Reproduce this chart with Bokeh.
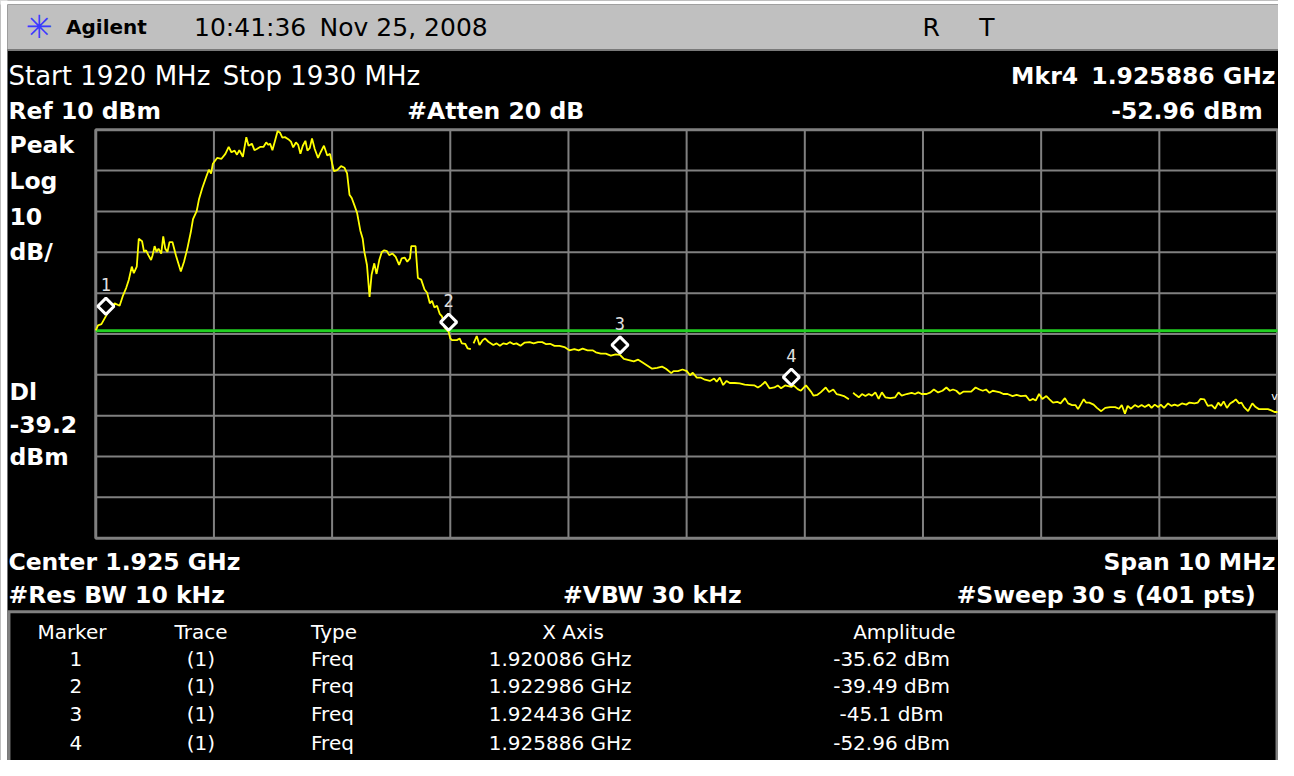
import math
from bokeh.plotting import figure
from bokeh.models import Range1d, Label, ColumnDataSource
from bokeh.core.properties import value
from bokeh.embed import file_html
from bokeh.resources import INLINE

# ---------------- data ----------------
START_MHZ = 1920.0
STOP_MHZ = 1930.0
REF_DBM = 10.0
DB_PER_DIV = 10.0
N_DIV = 10
DISPLAY_LINE_DBM = -39.2
ATTEN_DB = 20
RES_BW_KHZ = 10
VBW_KHZ = 30
SWEEP_S = 30
SWEEP_PTS = 401
TIMESTAMP_TIME = "10:41:36"
TIMESTAMP_DATE = "Nov 25, 2008"

NAN = float("nan")
trace_offset_mhz = [
    0.000, 0.019, 0.048, 0.086, 0.110, 0.132, 0.160, 0.202, 0.229, 0.258, 0.280, 0.305, 0.322, 0.347,
    0.364, 0.392, 0.409, 0.426, 0.445, 0.468, 0.481, 0.498, 0.515, 0.531, 0.554, 0.571, 0.588, 0.607,
    0.624, 0.649, 0.678, 0.720, 0.747, 0.775, 0.804, 0.823, 0.854, 0.873, 0.901, 0.935, 0.957, 0.976,
    0.991, 1.027, 1.064, 1.097, 1.125, 1.148, 1.175, 1.195, 1.215, 1.245, 1.274, 1.293, 1.321, 1.343,
    1.363, 1.391, 1.419, 1.442, 1.461, 1.475, 1.495, 1.517, 1.539, 1.559, 1.579, 1.601, 1.629, 1.652,
    1.671, 1.694, 1.713, 1.732, 1.752, 1.774, 1.791, 1.811, 1.830, 1.853, 1.881, 1.903, 1.931, 1.959,
    1.982, 2.015, 2.043, 2.076, 2.105, 2.127, 2.147, 2.166, 2.189, 2.211, 2.239, 2.259, 2.273, 2.295,
    2.317, 2.334, 2.357, 2.376, 2.399, 2.421, 2.441, 2.463, 2.483, 2.511, 2.538, 2.567, 2.589, 2.614,
    2.636, 2.659, 2.670, 2.706, 2.726, 2.754, 2.782, 2.804, 2.827, 2.846, 2.866, 2.888, 2.911, 2.930,
    2.950, 2.986, 3.000, 3.014, 3.056, 3.079, 3.098, 3.126, 3.146, 3.174, 3.185, 3.197, 3.224, 3.247,
    3.275, 3.294, 3.322, 3.364, 3.392, 3.420, 3.448, 3.476, 3.504, 3.537, 3.560, 3.594, 3.630, 3.672,
    3.705, 3.742, 3.778, 3.812, 3.845, 3.882, 3.924, 3.966, 4.008, 4.050, 4.086, 4.120, 4.162, 4.204,
    4.232, 4.274, 4.316, 4.358, 4.400, 4.436, 4.469, 4.511, 4.553, 4.590, 4.624, 4.666, 4.708, 4.750,
    4.792, 4.825, 4.870, 4.889, 4.926, 4.965, 5.002, 5.029, 5.052, 5.086, 5.122, 5.155, 5.197, 5.233,
    5.254, 5.281, 5.309, 5.338, 5.365, 5.407, 5.449, 5.491, 5.533, 5.575, 5.603, 5.631, 5.665, 5.701,
    5.743, 5.771, 5.799, 5.833, 5.886, 5.905, 5.940, 5.967, 6.010, 6.052, 6.074, 6.107, 6.134, 6.177,
    6.205, 6.241, 6.269, 6.297, 6.331, 6.373, 6.390, 6.409, 6.429, 6.457, 6.484, 6.513, 6.541, 6.568,
    6.597, 6.625, 6.652, 6.681, 6.723, 6.765, 6.793, 6.820, 6.862, 6.904, 6.933, 6.960, 6.988, 7.030,
    7.064, 7.092, 7.128, 7.165, 7.198, 7.227, 7.254, 7.282, 7.311, 7.344, 7.380, 7.408, 7.445, 7.478,
    7.506, 7.534, 7.563, 7.590, 7.624, 7.652, 7.680, 7.716, 7.758, 7.792, 7.828, 7.870, 7.903, 7.932,
    7.954, 7.982, 8.010, 8.044, 8.071, 8.100, 8.136, 8.164, 8.201, 8.228, 8.262, 8.290, 8.312, 8.340,
    8.360, 8.380, 8.407, 8.444, 8.472, 8.508, 8.542, 8.584, 8.626, 8.659, 8.682, 8.709, 8.732, 8.760,
    8.793, 8.822, 8.850, 8.877, 8.911, 8.934, 8.961, 8.990, 9.012, 9.040, 9.074, 9.102, 9.129, 9.158,
    9.191, 9.228, 9.255, 9.297, 9.326, 9.348, 9.381, 9.410, 9.443, 9.471, 9.499, 9.521, 9.544, 9.572,
    9.599, 9.628, 9.647, 9.675, 9.695, 9.717, 9.751, 9.787, 9.815, 9.843, 9.885, 9.919, 9.947, 9.975,
    10.000,
]
trace_dbm = [
    -39.1, -37.9, -37.6, -35.62, -34.3, -33.5, -32.5, -33.1, -30.7, -28.7, -26.7, -23.5, -25.1, -23.5,
    -16.7, -17.3, -19.9, -19.5, -20.7, -21.9, -20.7, -18.5, -19.9, -19.1, -20.3, -16.1, -19.1, -19.9,
    -17.5, -17.5, -20.7, -24.7, -22.3, -19.1, -15.1, -11.9, -9.9, -7.1, -4.3, -1.5, 0.2, -0.7,
    1.7, 3.1, 2.9, 4.1, 5.8, 4.5, 4.9, 3.9, 5.0, 3.4, 8.2, 6.1, 6.6, 5.0,
    5.3, 5.8, 5.8, 6.9, 6.3, 6.6, 5.0, 7.3, 9.7, 9.3, 8.1, 8.2, 7.7, 7.1,
    5.7, 6.9, 6.3, 4.1, 6.1, 7.3, 4.9, 5.5, 7.9, 5.3, 3.1, 4.5, 6.1, 3.7,
    4.1, -0.1, 0.1, 1.1, 0.7, -0.7, -5.9, -6.7, -8.5, -10.3, -14.7, -16.7, -19.9, -23.1,
    -30.9, -25.5, -22.7, -25.3, -21.9, -19.9, -19.5, -19.7, -20.7, -20.3, -21.1, -23.1, -21.5, -21.3,
    -22.3, -21.5, -18.5, -18.5, -26.3, -26.7, -29.1, -29.9, -32.5, -31.9, -33.5, -33.1, -35.1, -35.7,
    -38.3, -39.49, -41.1, -41.5, -41.5, -41.1, -42.3, -42.4, -43.5, -43.7, NAN, -42.3, -40.5, -42.7,
    -41.5, -41.1, -41.9, -42.7, -42.3, -42.9, -42.3, -42.5, -42.0, -42.5, -42.3, -42.9, -42.1, -42.0,
    -42.3, -42.0, -42.0, -42.5, -42.4, -42.9, -42.9, -43.2, -44.0, -43.7, -44.0, -43.6, -44.0, -44.0,
    -44.5, -44.8, -44.8, -45.3, -45.0, -45.1, -46.1, -46.4, -46.7, -46.3, -46.9, -47.7, -48.5, -48.3,
    -48.0, -48.5, -49.6, -49.1, -49.1, -48.7, -49.1, -50.1, -49.5, -50.7, -50.7, -51.2, -51.5, -50.9,
    -51.7, -50.7, -52.5, -51.5, -52.0, -52.0, -52.1, -52.4, -52.5, -52.6, -53.1, -52.6, -51.7, -53.3,
    -53.1, -52.6, -53.3, -52.6, -52.96, -52.6, -53.5, -53.9, -52.6, -54.1, -55.1, -54.9, -54.3, -53.1,
    -54.2, -53.6, -54.7, -54.9, -55.2, -56.0, NAN, -54.4, -54.9, -55.5, -54.7, -55.2, -54.7, -55.1,
    -54.3, -55.9, -54.3, -55.5, -55.7, -55.5, -54.3, -55.1, -54.7, -54.4, -54.7, -54.3, -54.7, -54.7,
    -54.3, -53.6, -54.3, -53.9, -53.1, -53.9, -53.6, -53.9, -54.7, -54.1, -54.1, -54.1, -53.1, -53.6,
    -53.9, -53.6, -54.4, -53.9, -54.1, -54.3, -54.7, -54.7, -55.2, -54.9, -55.2, -55.1, -56.3, -55.9,
    -56.3, -54.7, -55.9, -55.2, -56.0, -56.8, -56.6, -57.0, -55.7, -57.0, -57.4, -57.4, -58.4, -57.0,
    -56.0, -56.8, -56.8, -57.3, -58.1, -58.9, -58.1, -57.9, -57.9, -58.3, -57.4, -59.5, -57.6, -58.3,
    -57.4, -57.9, -57.4, -57.9, -57.3, -58.1, -57.3, -57.9, -57.3, -58.1, -57.0, -57.6, -57.3, -57.6,
    -57.0, -57.3, -56.8, -57.0, -56.8, -55.9, -56.0, -57.6, -57.4, -58.3, -56.8, -57.6, -56.5, -58.1,
    -57.0, -56.5, -56.0, -57.0, -56.8, -57.9, -58.9, -57.0, -57.9, -58.4, -58.4, -58.4, -58.7, -59.1,
    -59.1,
]

marker_ids = ["1", "2", "3", "4"]
marker_trace = ["(1)", "(1)", "(1)", "(1)"]
marker_type = ["Freq", "Freq", "Freq", "Freq"]
marker_freq_mhz = [1920.086, 1922.986, 1924.436, 1925.886]
marker_dbm = [-35.62, -39.49, -45.1, -52.96]
table_headers = ["Marker", "Trace", "Type", "X Axis", "Amplitude"]

# ---------------- geometry ----------------
# layout positions below are given in reference-screen pixels (1288 x 776 area)
# and squeezed slightly so the whole screen fits a 1278 x 760 canvas.
W, H = 1278, 760
SX = W / 1288.0
SY = H / 776.0
GX0, GX1 = 96.0, 1287.0      # graticule left/right (reference px)
GY0, GY1 = 132.0, 549.0      # graticule top/bottom (reference px)
px_per_mhz = (GX1 - GX0) * SX / (STOP_MHZ - START_MHZ)
px_per_db = (GY1 - GY0) * SY / (N_DIV * DB_PER_DIV)
x_start = START_MHZ - GX0 * SX / px_per_mhz
x_end = x_start + W / px_per_mhz
y_top = REF_DBM + GY0 * SY / px_per_db
y_bot = y_top - H / px_per_db


def X(rx):
    return x_start + rx * SX / px_per_mhz


def Y(ry):
    return y_top - ry * SY / px_per_db


p = figure(width=W, height=H, x_range=Range1d(x_start, x_end), y_range=Range1d(y_bot, y_top),
           output_backend="svg", toolbar_location=None, min_border=0,
           x_axis_location=None, y_axis_location=None,
           background_fill_color="black", border_fill_color="black", outline_line_color=None)
p.grid.visible = False

FONT = "DejaVu Sans"
GRID = "#808080"

# white screen surround (left and top)
p.quad(left=X(-10), right=X(7), top=Y(-10), bottom=Y(800), fill_color="white", line_color=None)
p.quad(left=X(-10), right=X(1300), top=Y(-10), bottom=Y(4), fill_color="white", line_color=None)

# header bar
p.quad(left=X(7), right=X(1300), top=Y(4), bottom=Y(50), fill_color="#c0c0c0", line_color=None)
p.segment(x0=X(7), x1=X(1300), y0=Y(50.5), y1=Y(50.5), line_color="#7a7a7a", line_width=2)

# marker table box
p.segment(x0=X(7), x1=X(1288), y0=Y(624), y1=Y(624), line_color=GRID, line_width=3)
p.segment(x0=X(8.5), x1=X(8.5), y0=Y(624), y1=Y(800), line_color=GRID, line_width=3)
p.segment(x0=X(1286.5), x1=X(1286.5), y0=Y(624), y1=Y(800), line_color=GRID, line_width=3)

# graticule
bottom_dbm = REF_DBM - N_DIV * DB_PER_DIV
xs_grid = [START_MHZ + k * (STOP_MHZ - START_MHZ) / N_DIV for k in range(1, N_DIV)]
ys_grid = [REF_DBM - k * DB_PER_DIV for k in range(1, N_DIV)]
p.segment(x0=xs_grid, x1=xs_grid, y0=[bottom_dbm] * len(xs_grid), y1=[REF_DBM] * len(xs_grid),
          line_color=GRID, line_width=2)
p.segment(x0=[START_MHZ] * len(ys_grid), x1=[STOP_MHZ] * len(ys_grid), y0=ys_grid, y1=ys_grid,
          line_color=GRID, line_width=2)
p.quad(left=START_MHZ, right=STOP_MHZ, top=REF_DBM, bottom=bottom_dbm, fill_color=None,
       line_color=GRID, line_width=3)

# display line
p.segment(x0=START_MHZ, x1=STOP_MHZ, y0=DISPLAY_LINE_DBM, y1=DISPLAY_LINE_DBM,
          line_color="#22d022", line_width=3)

# trace
trace_freq = [START_MHZ + o for o in trace_offset_mhz]
p.line(trace_freq, trace_dbm, line_color="#ffff00", line_width=1.8)

# markers (diamond sits ~10 px above the point, number ~32 px above)
dia_y = [a + 10 * SY / px_per_db for a in marker_dbm]
num_y = [a + 32 * SY / px_per_db for a in marker_dbm]
p.scatter(marker_freq_mhz, dia_y, marker="square", angle=math.pi / 4, size=11.5,
          fill_color="black", line_color="white", line_width=3)
p.text(marker_freq_mhz, num_y, text=marker_ids, text_font=value("DejaVu Sans Mono"),
       text_font_size="17px", text_color="#e0e0e0", text_align="center", text_baseline="middle")


def lab(text, rx, ry, size="23.5px", bold=True, align="left", color="white", font=FONT):
    p.add_layout(Label(x=X(rx), y=Y(ry), text=text, text_font=font, text_font_size=size,
                       text_font_style="bold" if bold else "normal", text_color=color,
                       text_align=align, text_baseline="middle"))


# header
lab("\u2733", 39, 27, size="32px", bold=True, align="center", color="#3a3aff")
lab("Agilent", 66, 27, size="20px", bold=True, color="black")
lab(TIMESTAMP_TIME, 195, 28, size="25px", bold=False, color="black")
lab(TIMESTAMP_DATE, 491, 28, size="25px", bold=False, align="right", color="black")
lab("R", 938, 28, size="25px", bold=False, align="center", color="black")
lab("T", 994, 28, size="25px", bold=False, align="center", color="black")

# annotations above graticule
lab(f"Start {START_MHZ:g} MHz", 8, 77, size="26px", bold=False)
lab(f"Stop {STOP_MHZ:g} MHz", 423, 77, size="26px", bold=False, align="right")
lab(f"Mkr{marker_ids[-1]}", 1086, 77, align="right")
lab(f"{marker_freq_mhz[-1] / 1000:.6f} GHz", 1285, 77, align="right")
lab(f"Ref {REF_DBM:g} dBm", 8, 113)
lab(f"#Atten {ATTEN_DB} dB", 410, 113)
lab(f"{marker_dbm[-1]:g} dBm", 1272, 113, align="right")

# left column
lab("Peak", 9, 148)
lab("Log", 9, 184)
lab(f"{DB_PER_DIV:g}", 9, 221)
lab("dB/", 9, 257)
lab("Dl", 9, 400)
lab(f"{DISPLAY_LINE_DBM:g}", 9, 433)
lab("dBm", 9, 466)

# below graticule
lab(f"Center {(START_MHZ + STOP_MHZ) / 2000:g} GHz", 8, 573)
lab(f"Span {STOP_MHZ - START_MHZ:g} MHz", 1285, 573, align="right")
lab(f"#Res BW {RES_BW_KHZ} kHz", 8, 607)
lab(f"#VBW {VBW_KHZ} kHz", 567, 607)
lab(f"#Sweep {SWEEP_S} s ({SWEEP_PTS} pts)", 1265, 607, align="right")

# right-edge indicator
lab("v", 1284, 404, size="11px", bold=False, align="center")

# marker table
hdr_px = [72, 202, 313, 577, 911]
hdr_align = ["center", "center", "left", "center", "center"]
for t, px, al in zip(table_headers, hdr_px, hdr_align):
    lab(t, px, 645, size="20px", bold=False, align=al)

row_py = [672, 700, 729, 758]
cols = [
    (marker_ids, 76, "center"),
    (marker_trace, 202, "center"),
    (marker_type, 313, "left"),
    ([f"{f / 1000:.6f} GHz" for f in marker_freq_mhz], 564, "center"),
    ([f"{a:g} dBm" for a in marker_dbm], 898, "center"),
]
for texts, px, al in cols:
    src = ColumnDataSource(dict(x=[X(px)] * len(texts), y=[Y(py) for py in row_py], t=texts))
    p.text(x="x", y="y", text="t", source=src, text_font=value(FONT), text_font_size="20px",
           text_color="white", text_align=al, text_baseline="middle")

open("out.html", "w").write(file_html(p, INLINE))
